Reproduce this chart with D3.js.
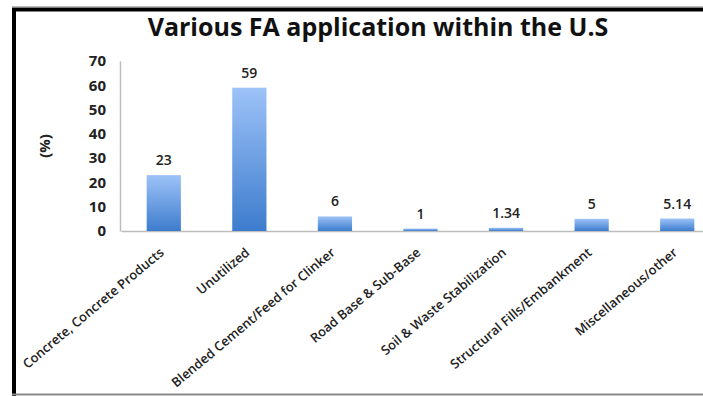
<!DOCTYPE html>
<html>
<head>
<meta charset="utf-8">
<script src="https://cdn.jsdelivr.net/npm/d3@7"></script>
<style>
  html, body { margin: 0; padding: 0; background: #fff; }
  svg { display: block; }
</style>
</head>
<body>
<svg id="chart" width="703" height="396"></svg>
<script>
// FA (fly ash) use categories and their shares, in percent
const categories = [
  "Concrete, Concrete Products",
  "Unutilized",
  "Blended Cement/Feed for Clinker",
  "Road Base & Sub-Base",
  "Soil & Waste Stabilization",
  "Structural Fills/Embankment",
  "Miscellaneous/other"
];
const values = [23, 59, 6, 1, 1.34, 5, 5.14];
const valueLabels = ["23", "59", "6", "1", "1.34", "5", "5.14"];
const yTicks = [0, 10, 20, 30, 40, 50, 60, 70];

const svg = d3.select("#chart");
const font = "'Open Sans', sans-serif";

// frame: heavy black rule on top and left, thin grey rule at the bottom
svg.append("line").attr("x1", 12).attr("x2", 703).attr("y1", 6.5).attr("y2", 6.5)
  .attr("stroke", "#bbb").attr("stroke-width", 1);
svg.append("path")
  .attr("d", "M14,396 L14,9.5 L703,9.5")
  .attr("fill", "none").attr("stroke", "#000").attr("stroke-width", 4);
svg.append("line").attr("x1", 12).attr("x2", 703).attr("y1", 394.5).attr("y2", 394.5)
  .attr("stroke", "#8a8a8a").attr("stroke-width", 2);

const x = d3.scaleBand().domain(categories).range([121, 720]).paddingInner(0.6).paddingOuter(0.3);
const y = d3.scaleLinear().domain([0, 70]).range([231, 61]);

// bar gradient, light at the top and deeper blue at the base
const grad = svg.append("defs").append("linearGradient")
  .attr("id", "barFill").attr("x1", 0).attr("x2", 0).attr("y1", 0).attr("y2", 1);
grad.append("stop").attr("offset", "0%").attr("stop-color", "#9dc3f8");
grad.append("stop").attr("offset", "100%").attr("stop-color", "#3d7ccd");

// title
svg.append("text")
  .attr("x", 378).attr("y", 36)
  .attr("text-anchor", "middle")
  .attr("font-family", font).attr("font-weight", 700).attr("font-size", 25)
  .attr("fill", "#111")
  .text("Various FA application within the U.S");

// y axis
const yAxis = d3.axisLeft(y).tickValues(yTicks).tickSize(0).tickPadding(14);
const gy = svg.append("g").attr("transform", "translate(120,0)").call(yAxis);
gy.select(".domain").attr("stroke", "#bdbdbd").attr("stroke-width", 1.5);
gy.selectAll("text")
  .attr("font-family", font).attr("font-weight", 700).attr("font-size", 15)
  .attr("fill", "#222");

// baseline / x axis
const xAxis = d3.axisBottom(x).tickSize(0).tickFormat("");
const gx = svg.append("g").attr("transform", "translate(0,231)").call(xAxis);
gx.select(".domain").attr("stroke", "#bdbdbd").attr("stroke-width", 1.5);

// category labels, slanted
svg.append("g").selectAll("text")
  .data(categories)
  .join("text")
  .attr("transform", d => `translate(${x(d) + x.bandwidth() / 2 + 1},${254}) rotate(-40)`)
  .attr("text-anchor", "end")
  .attr("font-family", font).attr("font-weight", 600).attr("font-size", 13)
  .attr("fill", "#222")
  .text(d => d);

// y axis title
svg.append("text")
  .attr("transform", "translate(50,146) rotate(-90)")
  .attr("text-anchor", "middle")
  .attr("font-family", font).attr("font-weight", 700).attr("font-size", 15)
  .attr("fill", "#222")
  .text("(%)");

// bars
svg.append("g").selectAll("rect")
  .data(values)
  .join("rect")
  .attr("x", (d, i) => x(categories[i]))
  .attr("width", x.bandwidth())
  .attr("y", d => y(d))
  .attr("height", d => y(0) - y(d))
  .attr("fill", "url(#barFill)");

// value labels above bars
svg.append("g").selectAll("text")
  .data(values)
  .join("text")
  .attr("x", (d, i) => x(categories[i]) + x.bandwidth() / 2)
  .attr("y", d => y(d) - 10)
  .attr("text-anchor", "middle")
  .attr("font-family", font).attr("font-weight", 600).attr("font-size", 14)
  .attr("fill", "#222")
  .text((d, i) => valueLabels[i]);
</script>
</body>
</html>
